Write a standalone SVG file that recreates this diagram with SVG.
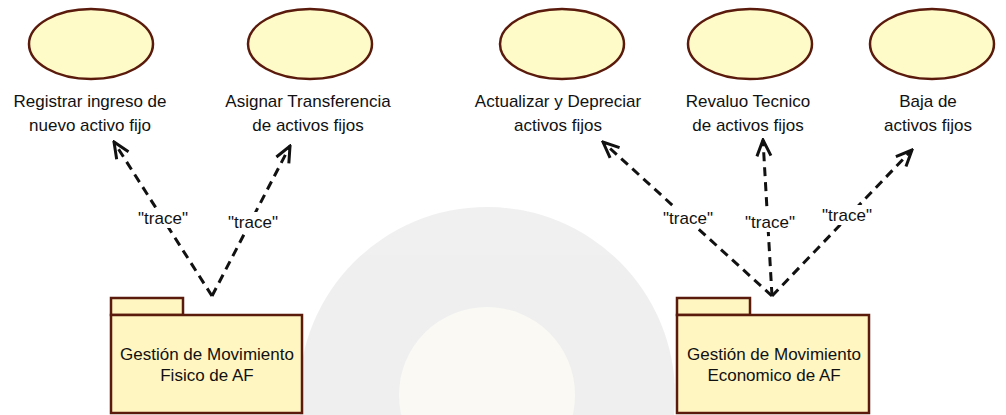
<svg xmlns="http://www.w3.org/2000/svg" width="1006" height="415" viewBox="0 0 1006 415">
<defs>
<style>
.uc{fill:#FFFBC9;stroke:#5A1A0C;stroke-width:2.5}
.pk{fill:#FFF6C2;stroke:#5A1A0C;stroke-width:2.5}
.t{font-family:"Liberation Sans",Arial,sans-serif;font-size:17px;fill:#111;text-anchor:middle}
.dep{fill:none;stroke:#111;stroke-width:3;stroke-dasharray:9 6}
.lbl{fill:#fff}
</style>
<marker id="open" viewBox="-18 -9 20 18" refX="0" refY="0" markerWidth="20" markerHeight="18" markerUnits="userSpaceOnUse" orient="auto">
<path d="M-16,-7 L0,0 L-16,7" fill="none" stroke="#111" stroke-width="3" stroke-linejoin="miter"/>
</marker>
</defs>
<rect width="1006" height="415" fill="#fff"/>
<g id="watermark" opacity="0.6">
<circle cx="487" cy="395" r="188" fill="#e6e6e6"/>
<circle cx="487" cy="395" r="88" fill="#f7f6ee"/>
</g>
<g id="uc1">
<ellipse class="uc" cx="91" cy="44" rx="62" ry="35"/>
<text class="t" x="90" y="107">Registrar ingreso de</text>
<text class="t" x="90" y="131">nuevo activo fijo</text>
</g>
<g id="uc2">
<ellipse class="uc" cx="310" cy="44" rx="62" ry="35"/>
<text class="t" x="308" y="107">Asignar Transferencia</text>
<text class="t" x="308" y="131">de activos fijos</text>
</g>
<g id="uc3">
<ellipse class="uc" cx="562" cy="44" rx="62" ry="35"/>
<text class="t" x="558" y="107">Actualizar y Depreciar</text>
<text class="t" x="558" y="131">activos fijos</text>
</g>
<g id="uc4">
<ellipse class="uc" cx="750" cy="44" rx="62" ry="35"/>
<text class="t" x="748" y="107">Revaluo Tecnico</text>
<text class="t" x="748" y="131">de activos fijos</text>
</g>
<g id="uc5">
<ellipse class="uc" cx="932" cy="44" rx="62" ry="35"/>
<text class="t" x="928" y="107">Baja de</text>
<text class="t" x="928" y="131">activos fijos</text>
</g>
<g id="pkg1">
<rect class="pk" x="111" y="298" width="72" height="17"/>
<rect class="pk" x="111" y="315" width="191" height="98"/>
<text class="t" x="207" y="360">Gestión de Movimiento</text>
<text class="t" x="207" y="381">Fisico de AF</text>
</g>
<g id="pkg2">
<rect class="pk" x="677" y="298" width="73" height="17"/>
<rect class="pk" x="677" y="315" width="192" height="98"/>
<text class="t" x="774" y="360">Gestión de Movimiento</text>
<text class="t" x="774" y="381">Economico de AF</text>
</g>
<g id="connectors">
<path class="dep" d="M212,296 L114,142" marker-end="url(#open)"/>
<path class="dep" d="M212,296 L290,146" marker-end="url(#open)"/>
<path class="dep" d="M772,296 L603,142" marker-end="url(#open)"/>
<path class="dep" d="M772,296 L763,140" marker-end="url(#open)"/>
<path class="dep" d="M772,296 L912,150" marker-end="url(#open)"/>
<rect class="lbl" x="136" y="208" width="55" height="20"/>
<text class="t" x="163" y="224">"trace"</text>
<rect class="lbl" x="226" y="212" width="54" height="20"/>
<text class="t" x="253" y="228">"trace"</text>
<rect class="lbl" x="661" y="208" width="54" height="20"/>
<text class="t" x="688" y="224">"trace"</text>
<rect class="lbl" x="743" y="212" width="54" height="20"/>
<text class="t" x="770" y="228">"trace"</text>
<rect class="lbl" x="820" y="205" width="54" height="20"/>
<text class="t" x="847" y="221">"trace"</text>
</g>
</svg>
